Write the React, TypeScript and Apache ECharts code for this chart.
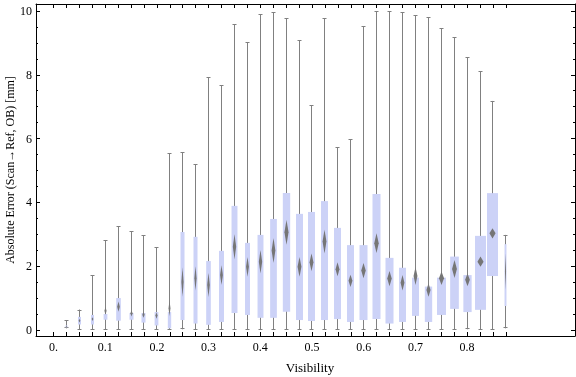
import React, { useEffect, useRef } from "react";
import * as echarts from "echarts";

const visibility = [
  0.025, 0.05, 0.075, 0.1, 0.125, 0.15, 0.175, 0.2, 0.225, 0.25, 0.275, 0.3,
  0.325, 0.35, 0.375, 0.4, 0.425, 0.45, 0.475, 0.5, 0.525, 0.55, 0.575, 0.6,
  0.625, 0.65, 0.675, 0.7, 0.725, 0.75, 0.775, 0.8, 0.825, 0.85, 0.875,
];
const whiskerLow = [
  0.05, 0, 0, 0, 0, 0, 0, 0, 0, 0.02, 0, 0, 0, 0, 0, 0, 0, 0, 0, 0, 0, 0, 0, 0,
  0, 0, 0, 0, 0, 0, 0, 0.02, 0, 0, 0.05,
];
const quartile1 = [
  0.08, 0.17, 0.17, 0.32, 0.29, 0.32, 0.23, 0.14, 0.05, 0.31, 0.2, 0.16, 0.25,
  0.53, 0.47, 0.38, 0.38, 0.57, 0.31, 0.28, 0.31, 0.34, 0.25, 0.31, 0.34, 0.2,
  0.25, 0.44, 0.25, 0.47, 0.66, 0.56, 0.63, 1.69, 0.75,
];
const centre = [
  0.1, 0.29, 0.34, 0.6, 0.73, 0.52, 0.48, 0.45, 0.68, 1.5, 1.62, 1.41, 1.72,
  2.61, 1.98, 2.14, 2.49, 3.06, 1.98, 2.12, 2.77, 1.9, 1.54, 1.86, 2.72, 1.61,
  1.48, 1.69, 1.25, 1.62, 1.91, 1.57, 2.14, 3.03, 1.83,
];
const quartile3 = [
  0.14, 0.41, 0.47, 0.5, 1.0, 0.53, 0.53, 0.56, 0.56, 3.07, 2.92, 2.16, 2.48,
  3.89, 2.73, 2.98, 3.48, 4.29, 3.64, 3.7, 4.04, 3.2, 2.66, 2.66, 4.26, 2.26,
  1.95, 1.64, 1.36, 1.64, 2.3, 1.72, 2.95, 4.29, 2.69,
];
const whiskerHigh = [
  0.3, 0.64, 1.71, 2.82, 3.25, 3.1, 2.97, 2.59, 5.54, 5.57, 5.19, 7.92, 7.67,
  9.58, 9.02, 9.9, 9.96, 9.77, 9.08, 7.04, 9.77, 5.73, 5.98, 9.52, 9.99, 9.99,
  9.96, 9.87, 9.8, 9.46, 9.18, 8.55, 8.11, 7.18, 2.98,
];
// relative weight of each bin (fraction of the bin spacing)
const binWeight = [
  0.15, 0.23, 0.23, 0.29, 0.36, 0.31, 0.31, 0.29, 0.26, 0.31, 0.31, 0.36, 0.39,
  0.46, 0.39, 0.46, 0.52, 0.57, 0.54, 0.54, 0.54, 0.54, 0.54, 0.62, 0.62, 0.62,
  0.54, 0.54, 0.57, 0.7, 0.67, 0.64, 0.85, 0.85, 0.15,
];
// half-height of the confidence diamond
const confidence = [
  0.03, 0.06, 0.06, 0.12, 0.16, 0.1, 0.1, 0.1, 0.25, 0.46, 0.38, 0.38, 0.31,
  0.39, 0.31, 0.37, 0.39, 0.39, 0.31, 0.28, 0.37, 0.22, 0.19, 0.24, 0.31, 0.24,
  0.24, 0.28, 0.21, 0.21, 0.28, 0.2, 0.16, 0.16, 0.58,
];
const xTickValues = [0, ...visibility];
const xLabelValues = [0, 0.1, 0.2, 0.3, 0.4, 0.5, 0.6, 0.7, 0.8];
const yMajorTicks = [0, 2, 4, 6, 8, 10];
const yMinorTicks = [
  0.5, 1, 1.5, 2.5, 3, 3.5, 4.5, 5, 5.5, 6.5, 7, 7.5, 8.5, 9, 9.5,
];
const xTitle = "Visibility";
const yTitle = "Absolute Error (Scan\u2192Ref, OB) [mm]";

const BIN = 0.025;
const FONT = "'Liberation Serif', 'DejaVu Serif', serif";

export default function App() {
  const ref = useRef<HTMLDivElement>(null);
  useEffect(() => {
    if (!ref.current) return;
    const chart = echarts.init(ref.current, null, { renderer: "svg" });
    const data = visibility.map((v, i) => [
      v,
      whiskerLow[i],
      quartile1[i],
      centre[i],
      quartile3[i],
      whiskerHigh[i],
      binWeight[i],
      confidence[i],
    ]);
    const XMIN = -0.0338;
    const XMAX = 1.0087;
    const YMIN = -0.19;
    const YMAX = 10.22;
    const lineStyle = { color: "#000", width: 1 };
    const baseX = {
      type: "value" as const,
      min: XMIN,
      max: XMAX,
      splitLine: { show: false },
      axisLine: { show: true, onZero: false, lineStyle },
      axisTick: {
        show: true,
        inside: true,
        length: 4,
        customValues: xTickValues,
        lineStyle,
      },
    };
    const baseY = {
      type: "value" as const,
      min: YMIN,
      max: YMAX,
      splitLine: { show: false },
      axisLine: { show: true, onZero: false, lineStyle },
      axisTick: {
        show: true,
        inside: true,
        length: 4,
        customValues: yMajorTicks,
        lineStyle,
      },
    };
    const minorY = {
      type: "value" as const,
      min: YMIN,
      max: YMAX,
      splitLine: { show: false },
      axisLine: { show: false, onZero: false },
      axisLabel: { show: false },
      axisTick: {
        show: true,
        inside: true,
        length: 2,
        customValues: yMinorTicks,
        lineStyle,
      },
    };
    chart.setOption({
      animation: false,
      grid: {
        left: 36,
        right: 1,
        top: 4,
        bottom: 41,
        containLabel: false,
        outerBoundsMode: "none",
      },
      xAxis: [
        {
          ...baseX,
          position: "bottom",
          axisLabel: {
            show: true,
            customValues: xLabelValues,
            margin: 5,
            fontFamily: FONT,
            fontSize: 12,
            color: "#000",
            formatter: (v: number) =>
              v === 0 ? "0." : String(Number(v.toFixed(1))),
          },
        },
        { ...baseX, position: "top", axisLabel: { show: false } },
      ],
      yAxis: [
        {
          ...baseY,
          position: "left",
          axisLabel: {
            show: true,
            customValues: yMajorTicks,
            margin: 4,
            fontFamily: FONT,
            fontSize: 12,
            color: "#000",
          },
        },
        { ...baseY, position: "right", axisLabel: { show: false } },
        { ...minorY, position: "left" },
        { ...minorY, position: "right" },
      ],
      graphic: [
        {
          type: "text",
          x: 310,
          y: 367,
          style: {
            text: xTitle,
            fontFamily: FONT,
            fontSize: 13,
            fill: "#000",
            align: "center",
            verticalAlign: "middle",
          },
        },
        {
          type: "text",
          x: 10,
          y: 170,
          rotation: Math.PI / 2,
          style: {
            text: yTitle,
            fontFamily: FONT,
            fontSize: 12,
            fill: "#000",
            align: "center",
            verticalAlign: "middle",
          },
        },
      ],
      series: [
        {
          type: "custom",
          xAxisIndex: 0,
          yAxisIndex: 0,
          clip: false,
          encode: { x: 0, y: [1, 5] },
          data,
          renderItem: (params: any, api: any) => {
            const v = api.value(0);
            const lo = api.coord([v, api.value(1)]);
            const b1 = api.coord([v, api.value(2)]);
            const c = api.coord([v, api.value(3)]);
            const b3 = api.coord([v, api.value(4)]);
            const hi = api.coord([v, api.value(5)]);
            const binPx = api.size([BIN, 0])[0];
            const w = api.value(6) * binPx;
            const ciT = api.coord([v, api.value(3) + api.value(7)]);
            const ciB = api.coord([v, api.value(3) - api.value(7)]);
            const cx = Math.round(lo[0] - 0.5) + 0.5;
            const dw = w * 0.28;
            const gray = "#808080";
            return {
              type: "group",
              children: [
                {
                  type: "line",
                  shape: { x1: cx, y1: lo[1], x2: cx, y2: hi[1] },
                  style: { stroke: gray, lineWidth: 1 },
                },
                {
                  type: "line",
                  shape: { x1: cx - 2, y1: Math.round(hi[1]) + 0.5, x2: cx + 2, y2: Math.round(hi[1]) + 0.5 },
                  style: { stroke: gray, lineWidth: 1 },
                },
                {
                  type: "line",
                  shape: { x1: cx - 2, y1: Math.round(lo[1]) - 0.5, x2: cx + 2, y2: Math.round(lo[1]) - 0.5 },
                  style: { stroke: gray, lineWidth: 1 },
                },
                {
                  type: "rect",
                  shape: { x: cx - w / 2, y: b3[1], width: w, height: b1[1] - b3[1] },
                  style: { fill: "#ccd2f7" },
                },
                {
                  type: "polygon",
                  shape: {
                    points: [
                      [cx, ciT[1]],
                      [cx + dw, c[1]],
                      [cx, ciB[1]],
                      [cx - dw, c[1]],
                    ],
                  },
                  style: { fill: "#767676" },
                },
              ],
            };
          },
        },
      ],
    });
    return () => chart.dispose();
  }, []);
  return (
    <div
      ref={ref}
      style={{ position: "fixed", left: 0, top: 0, width: 576, height: 377 }}
    />
  );
}
